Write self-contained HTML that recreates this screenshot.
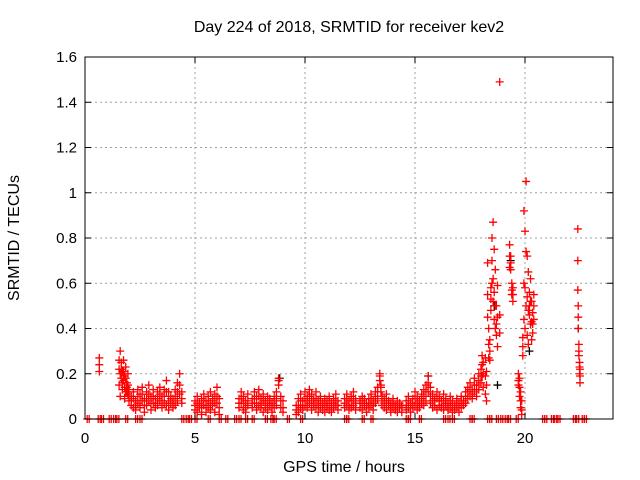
<!DOCTYPE html>
<html><head><meta charset="utf-8"><style>
body{margin:0;background:#fff}
svg{display:block;font-family:"Liberation Sans",sans-serif}
</style></head><body>
<svg id="chart" width="640" height="480" viewBox="0 0 640 480" xmlns="http://www.w3.org/2000/svg">
<rect width="640" height="480" fill="#fff"/>
<text x="349" y="32" text-anchor="middle" font-size="16" fill="#000">Day 224 of 2018, SRMTID for receiver kev2</text>
<text x="344" y="472" text-anchor="middle" font-size="16" fill="#000">GPS time / hours</text>
<text x="19" y="238" text-anchor="middle" font-size="16" fill="#000" transform="rotate(-90 19 238)">SRMTID / TECUs</text>
<g id="grid"></g>
<g id="marks"></g>
<g id="axes"></g>
</svg>
<script>
const xTicks=[0,5,10,15,20];
const yTicks=[0,0.2,0.4,0.6,0.8,1,1.2,1.4,1.6];
const yTickLabels=["0","0.2","0.4","0.6","0.8","1","1.2","1.4","1.6"];
const hours=[0.65,1.55,1.6,1.65,1.7,1.75,1.8,1.85,1.9,1.95,2.0,
2.1,2.2,2.3,2.4,2.5,2.6,2.7,2.8,2.9,3.0,3.1,3.2,3.3,3.4,3.5,3.6,3.7,3.8,3.9,4.0,4.1,4.2,4.3,4.4,
5.0,5.1,5.2,5.3,5.4,5.5,5.6,5.7,5.8,5.9,6.0,6.1,
7.0,7.1,7.2,7.3,7.4,7.6,7.7,7.8,7.9,8.0,8.1,8.2,8.3,8.4,8.5,8.6,8.7,8.8,8.9,9.0,
9.6,9.7,9.8,9.9,10.0,10.1,10.2,10.3,10.4,10.5,10.6,10.7,10.8,10.9,11.0,11.1,11.2,11.3,11.4,11.5,11.8,11.9,12.0,12.1,12.2,12.3,12.5,12.6,12.7,12.8,
12.9,13.0,13.1,13.2,13.3,13.4,13.45,13.5,13.6,13.7,13.8,13.9,14.0,14.1,14.2,14.3,14.4,14.6,14.7,
14.8,14.9,15.0,15.1,15.2,15.3,15.4,15.5,15.6,15.7,15.8,15.9,16.0,16.1,16.2,16.3,16.4,16.5,16.6,16.7,16.8,16.9,17.0,17.1,17.2,17.3,17.4,
17.5,17.6,17.7,17.8,17.9,18.0,18.05,18.1,18.2,18.25,18.3,18.35,
18.4,18.45,18.5,18.55,18.6,18.65,18.7,18.75,18.85,19.3,19.35,19.4,19.45,19.7,19.75,19.8,19.85,19.9,19.95,20.0,20.05,20.1,20.15,20.2,20.25,20.3,20.35,20.4,
22.4,22.42,22.45,22.48,22.5];
const tecuUpper=[0.27,0.22,0.30,0.25,0.21,0.26,0.19,0.23,0.14,0.20,0.13,
0.10,0.12,0.08,0.13,0.11,0.14,0.09,0.12,0.15,0.10,0.13,0.09,0.12,0.14,0.10,0.13,0.17,0.12,0.10,0.09,0.13,0.16,0.20,0.12,
0.08,0.10,0.07,0.09,0.11,0.08,0.10,0.12,0.09,0.11,0.14,0.09,
0.09,0.12,0.10,0.08,0.11,0.09,0.12,0.10,0.13,0.09,0.11,0.08,0.10,0.09,0.07,0.10,0.12,0.18,0.10,0.08,
0.06,0.09,0.11,0.08,0.12,0.10,0.13,0.11,0.09,0.12,0.08,0.10,0.07,0.09,0.08,0.10,0.07,0.09,0.11,0.08,0.09,0.11,0.08,0.10,0.12,0.09,0.08,0.10,0.09,0.07,
0.09,0.11,0.08,0.12,0.14,0.20,0.15,0.10,0.09,0.11,0.08,0.07,0.09,0.06,0.08,0.07,0.06,0.08,0.10,
0.07,0.09,0.12,0.10,0.08,0.11,0.13,0.15,0.19,0.14,0.11,0.09,0.12,0.10,0.08,0.11,0.09,0.07,0.10,0.08,0.06,0.09,0.07,0.10,0.08,0.12,0.14,
0.16,0.13,0.18,0.15,0.20,0.22,0.28,0.25,0.27,0.21,0.69,0.40,
0.35,0.58,0.80,0.87,0.75,0.66,0.50,0.59,1.49,0.77,0.72,0.60,0.58,0.20,0.18,0.12,0.08,0.36,0.92,0.83,1.05,0.72,0.65,0.56,0.62,0.52,0.47,0.55,
0.84,0.50,0.33,0.25,0.22];
const tecuMid=[0.24,0.26,0.20,0.22,0.16,0.21,0.14,0.18,0.12,0.15,0.10,
0.08,0.09,0.06,0.10,0.08,0.11,0.06,0.09,0.11,0.07,0.10,0.07,0.09,0.11,0.08,0.10,0.12,0.08,0.09,0.07,0.10,0.12,0.15,0.09,
0.06,0.07,0.06,0.05,0.08,0.06,0.08,0.07,0.08,0.07,0.10,0.05,
0.07,0.09,0.07,0.05,0.08,0.07,0.09,0.07,0.10,0.07,0.08,0.06,0.07,0.08,0.05,0.08,0.09,0.17,0.08,0.05,
0.04,0.06,0.08,0.06,0.09,0.08,0.10,0.08,0.07,0.09,0.06,0.08,0.06,0.07,0.06,0.08,0.05,0.07,0.08,0.06,0.07,0.09,0.06,0.08,0.09,0.07,0.07,0.08,0.07,0.05,
0.07,0.09,0.06,0.10,0.12,0.19,0.14,0.08,0.07,0.08,0.07,0.05,0.07,0.05,0.06,0.06,0.05,0.06,0.08,
0.05,0.07,0.09,0.07,0.06,0.09,0.10,0.12,0.16,0.10,0.08,0.08,0.09,0.08,0.06,0.08,0.07,0.05,0.08,0.06,0.05,0.07,0.05,0.08,0.07,0.10,0.12,
0.13,0.11,0.15,0.13,0.17,0.19,0.24,0.20,0.19,0.15,0.55,0.33,
0.30,0.53,0.70,0.62,0.56,0.50,0.42,0.45,0.38,0.72,0.69,0.57,0.55,0.17,0.14,0.08,0.04,0.32,0.60,0.58,0.74,0.54,0.48,0.50,0.52,0.43,0.42,0.50,
0.70,0.45,0.30,0.23,0.19];
const tecuLower=[0.21,0.15,0.10,0.18,0.13,0.17,0.09,0.12,0.16,0.11,0.08,
0.06,0.05,0.04,0.07,0.05,0.08,0.03,0.06,0.08,0.04,0.07,0.05,0.06,0.08,0.05,0.07,0.06,0.04,0.07,0.05,0.06,0.08,0.11,0.07,
0.04,0.03,0.05,0.02,0.06,0.03,0.05,0.04,0.06,0.03,0.07,0.02,
0.05,0.07,0.04,0.03,0.06,0.05,0.07,0.04,0.06,0.05,0.03,0.05,0.04,0.06,0.03,0.05,0.06,0.15,0.05,0.03,
0.02,0.03,0.05,0.04,0.06,0.05,0.07,0.04,0.06,0.05,0.03,0.05,0.04,0.03,0.05,0.04,0.03,0.05,0.06,0.04,0.05,0.06,0.04,0.05,0.06,0.04,0.05,0.04,0.06,0.03,
0.05,0.06,0.04,0.07,0.09,0.17,0.12,0.06,0.05,0.04,0.06,0.03,0.05,0.04,0.03,0.05,0.03,0.04,0.05,
0.03,0.05,0.06,0.04,0.05,0.07,0.06,0.08,0.12,0.07,0.05,0.06,0.04,0.06,0.05,0.04,0.06,0.04,0.05,0.03,0.04,0.05,0.03,0.05,0.06,0.07,0.09,
0.10,0.09,0.12,0.10,0.13,0.16,0.19,0.14,0.11,0.08,0.45,0.27,
0.26,0.48,0.60,0.52,0.44,0.40,0.37,0.32,0.46,0.67,0.66,0.55,0.52,0.15,0.10,0.05,0.02,0.28,0.44,0.40,0.50,0.37,0.33,0.46,0.42,0.35,0.38,0.44,
0.57,0.40,0.28,0.20,0.16];
const zeroHours=[0.1,0.6,0.75,1.1,1.3,1.45,1.85,2.3,2.5,4.4,4.6,4.75,5.0,5.6,6.1,6.4,6.8,7.0,7.3,7.6,8.2,8.45,8.6,9.2,9.8,11.8,11.9,12.6,13.0,14.6,14.7,15.2,16.3,16.5,16.7,17.5,17.6,18.3,18.4,18.7,18.9,19.1,19.25,19.6,20.8,20.9,21.2,21.35,21.5,22.2,22.35,22.6,22.7];
const blackHours=[8.85,15.6,18.6,19.35,22.42,18.75,20.2];
const blackTecu=[0.18,0.19,0.50,0.70,0.40,0.15,0.30];

const L=85,R=613,T=57,B=419,XMAX=24,YMAX=1.6;
const sx=v=>L+v/XMAX*(R-L);
const sy=v=>B-v/YMAX*(B-T);
const NS="http://www.w3.org/2000/svg";
function mk(tag,attrs,parent){const e=document.createElementNS(NS,tag);for(const k in attrs)e.setAttribute(k,attrs[k]);parent.appendChild(e);return e;}
const grid=document.getElementById('grid'),marks=document.getElementById('marks'),axes=document.getElementById('axes');
xTicks.forEach(t=>{
  if(t>0){const g=mk('line',{x1:sx(t),x2:sx(t),y1:T,y2:B,stroke:'#a0a0a0','stroke-dasharray':'2,3','stroke-width':1},grid);
  
  }
  const a=mk('line',{x1:sx(t),x2:sx(t),y1:B,y2:B-6,stroke:'#000'},axes);
  
  
  const b=mk('line',{x1:sx(t),x2:sx(t),y1:T,y2:T+6,stroke:'#000'},axes);
  
  
  const tx=mk('text',{x:sx(t),y:B+24,'text-anchor':'middle','font-size':15},axes);tx.textContent=t;
  
  
});
yTicks.forEach((t,i)=>{
  if(t>0&&t<YMAX){const g=mk('line',{x1:L,x2:R,y1:sy(t),y2:sy(t),stroke:'#a0a0a0','stroke-dasharray':'2,3','stroke-width':1},grid);
  
  }
  const a=mk('line',{x1:L,x2:L+6,y1:sy(t),y2:sy(t),stroke:'#000'},axes);
  
  
  const b=mk('line',{x1:R,x2:R-6,y1:sy(t),y2:sy(t),stroke:'#000'},axes);
  
  
  const tx=mk('text',{x:L-8,y:sy(t)+5,'text-anchor':'end','font-size':15},axes);tx.textContent=yTickLabels[i];
  
  
});
const frame=mk('rect',{x:L,y:T,width:R-L,height:B-T,fill:'none',stroke:'#000','stroke-width':1},axes);


function plus(x,y,col){
  const p=mk('path',{d:`M${x-4} ${y}H${x+4}M${x} ${y-4}V${y+4}`,stroke:col,'stroke-width':1.3,fill:'none'},marks);
  
  
}
blackHours.forEach((h,i)=>plus(sx(h),sy(blackTecu[i]),'#000'));
hours.forEach((h,i)=>{plus(sx(h),sy(tecuUpper[i]),'#ff0000');plus(sx(h),sy(tecuMid[i]),'#ff0000');plus(sx(h),sy(tecuLower[i]),'#ff0000');});
zeroHours.forEach(h=>{plus(sx(h),sy(0),'#ff0000');plus(sx(h)+2,sy(0),'#ff0000');});
</script>
</body></html>
